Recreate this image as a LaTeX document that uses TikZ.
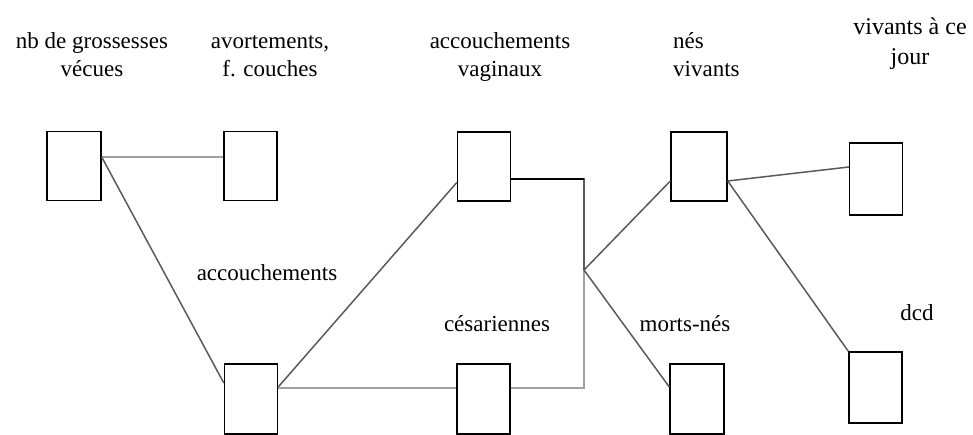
\documentclass[tikz,border=0pt]{standalone}
\usepackage{fontspec}
\setmainfont{Liberation Serif}
\usepackage{xcolor}
\usetikzlibrary{calc}

\begin{document}
\begin{tikzpicture}[x=1pt,y=1pt,yscale=-1,xscale=1,
  box/.style={draw=black, line width=1.4pt, minimum width=53pt, minimum height=69pt, inner sep=0pt},
  link/.style={draw={rgb, 255:red, 90; green, 90; blue, 90}, line width=1.5pt},
  pale/.style={draw={rgb, 255:red, 160; green, 160; blue, 160}, line width=1.7pt},
  lbl/.style={inner sep=0pt, align=center, font=\fontsize{23}{28}\selectfont}]
\useasboundingbox (0,0) rectangle (973,434);
\clip (0,0) rectangle (973,434);

%Shape: Box nb grossesses
\node [box, minimum width=54pt] (grossesses) at (74,166) {};
%Shape: Box avortements
\node [box] (avortements) at (250.5,166) {};
%Shape: Box vaginaux
\node [box] (vaginaux) at (484,166.5) {};
%Shape: Box nes vivants
\node [box, minimum width=56pt] (vivants) at (699,166.5) {};
%Shape: Box vivants ce jour
\node [box, minimum height=72pt] (cejour) at (876,179) {};
%Shape: Box dcd
\node [box, minimum height=71pt] (dcd) at (875.5,387.5) {};
%Shape: Box accouchements
\node [box, minimum height=70pt] (accouch) at (251,399) {};
%Shape: Box cesariennes
\node [box, minimum height=70pt] (cesar) at (483.5,399) {};
%Shape: Box morts-nes
\node [box, minimum height=70pt, minimum width=54pt] (morts) at (697,399) {};

%Joint
\coordinate (joint) at (584,270);

%Straight Lines
\draw [pale] ($(grossesses.east)+(0,-9)$) -- ($(avortements.west)+(0,-9)$);
\draw [link] ($(grossesses.east)+(0,-9)$) -- ($(accouch.west)+(0,-16)$);
\draw [link] ($(accouch.east)+(0,-12)$) -- ($(vaginaux.west)+(0,16)$);
\draw [pale] ($(accouch.east)+(0,-11)$) -- ($(cesar.west)+(0,-11)$);
\draw [pale] ($(cesar.east)+(0,-11)$) -| (joint);
\draw [link] (joint) |- ($(vaginaux.east)+(0,12.5)$);
\draw [draw=black, line width=1.5pt] ($(vaginaux.east)+(0,12.5)$) -- (584,179);
\draw [link] (joint) -- ($(vivants.west)+(0,14.5)$);
\draw [link] (joint) -- ($(morts.west)+(0,-12)$);
\draw [link] ($(vivants.east)+(0,14.5)$) -- ($(cejour.west)+(0,-12)$);
\draw [link] ($(vivants.east)+(0,14.5)$) -- (dcd.north west);

% Text Node
\node [lbl, anchor=base] (tgrossesses) at (92,76) {nb de grossesses\\vécues};
% Text Node
\node [lbl, anchor=base] (tavortements) at (270,76) {avortements,\\f. couches};
% Text Node
\node [lbl, anchor=base] (tvaginaux) at (500,76) {accouchements\\vaginaux};
% Text Node
\node [lbl, anchor=base west, align=left] (tvivants) at (673,76) {nés\\vivants};
% Text Node
\node [lbl, anchor=base, font=\fontsize{24}{30}\selectfont] (tcejour) at (910,64) {vivants à ce\\jour};
% Text Node
\node [lbl, anchor=base] (taccouch) at (267,280) {accouchements};
% Text Node
\node [lbl, anchor=base] (tcesar) at (497,331) {césariennes};
% Text Node
\node [lbl, anchor=base] (tmorts) at (685,331) {morts-nés};
% Text Node
\node [lbl, anchor=base] (tdcd) at (917,320) {dcd};

\end{tikzpicture}
\end{document}
